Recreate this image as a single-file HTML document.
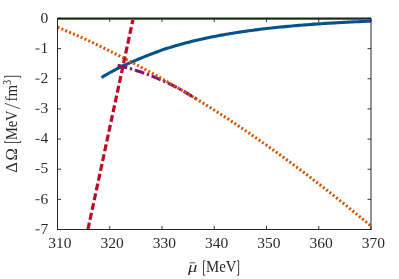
<!DOCTYPE html>
<html><head><meta charset="utf-8"><style>
html,body{margin:0;padding:0;background:#fff;}
svg{display:block;will-change:transform}
text{font-family:"Liberation Serif",serif;font-size:15.5px;fill:#2a2a2a;}
</style></head><body>
<svg width="399" height="279" viewBox="0 0 399 279">
<rect width="399" height="279" fill="#fff"/>
<g fill="none">
<path d="M87.90,229.50 L133.20,18.50" stroke="#be0a22" stroke-width="3.2" stroke-dasharray="7,3"/>
<path d="M101.50,77.48 L103.76,76.13 L106.03,74.80 L108.29,73.51 L110.56,72.26 L112.82,71.03 L115.09,69.84 L117.35,68.69 L119.62,67.56 L121.88,66.46 L124.15,65.40 L126.41,64.36 L128.68,63.34 L130.94,62.35 L133.21,61.37 L135.47,60.41 L137.74,59.46 L140.00,58.52 L142.26,57.59 L144.53,56.67 L146.79,55.76 L149.06,54.86 L151.32,53.98 L153.59,53.11 L155.85,52.26 L158.12,51.43 L160.38,50.62 L162.65,49.84 L164.91,49.07 L167.18,48.33 L169.44,47.61 L171.71,46.90 L173.97,46.22 L176.24,45.56 L178.50,44.91 L180.76,44.28 L183.03,43.66 L185.29,43.06 L187.56,42.48 L189.82,41.90 L192.09,41.34 L194.35,40.80 L196.62,40.26 L198.88,39.74 L201.15,39.23 L203.41,38.73 L205.68,38.24 L207.94,37.77 L210.21,37.30 L212.47,36.84 L214.74,36.40 L217.00,35.96 L219.26,35.54 L221.53,35.12 L223.79,34.72 L226.06,34.32 L228.32,33.93 L230.59,33.55 L232.85,33.18 L235.12,32.82 L237.38,32.46 L239.65,32.12 L241.91,31.78 L244.18,31.45 L246.44,31.12 L248.71,30.81 L250.97,30.50 L253.24,30.20 L255.50,29.90 L257.76,29.61 L260.03,29.33 L262.29,29.05 L264.56,28.78 L266.82,28.52 L269.09,28.26 L271.35,28.01 L273.62,27.77 L275.88,27.52 L278.15,27.29 L280.41,27.06 L282.68,26.84 L284.94,26.62 L287.21,26.40 L289.47,26.19 L291.74,25.99 L294.00,25.79 L296.26,25.59 L298.53,25.40 L300.79,25.21 L303.06,25.03 L305.32,24.85 L307.59,24.68 L309.85,24.50 L312.12,24.34 L314.38,24.17 L316.65,24.01 L318.91,23.86 L321.18,23.71 L323.44,23.56 L325.71,23.41 L327.97,23.27 L330.24,23.13 L332.50,22.99 L334.76,22.86 L337.03,22.73 L339.29,22.60 L341.56,22.48 L343.82,22.36 L346.09,22.24 L348.35,22.12 L350.62,22.01 L352.88,21.90 L355.15,21.79 L357.41,21.69 L359.68,21.58 L361.94,21.48 L364.21,21.38 L366.47,21.29 L368.74,21.19 L371.00,21.10" stroke="#06538c" stroke-width="3.1"/>
<path d="M117.70,65.29 L119.36,65.68 L121.01,66.10 L122.67,66.52 L124.32,66.96 L125.98,67.41 L127.63,67.87 L129.29,68.34 L130.94,68.83 L132.60,69.33 L134.25,69.85 L135.91,70.37 L137.56,70.91 L139.22,71.46 L140.87,72.03 L142.53,72.61 L144.18,73.20 L145.84,73.80 L147.49,74.42 L149.15,75.05 L150.80,75.69 L152.46,76.34 L154.11,77.01 L155.77,77.69 L157.42,78.39 L159.08,79.09 L160.73,79.81 L162.39,80.54 L164.04,81.29 L165.70,82.04 L167.35,82.81 L169.01,83.60 L170.66,84.39 L172.32,85.20 L173.97,86.02 L175.63,86.86 L177.28,87.70 L178.94,88.57 L180.59,89.49 L182.25,90.47 L183.90,91.45 L185.56,92.44 L187.21,93.43 L188.87,94.42 L190.52,95.42 L192.18,96.42 L193.83,97.42 L195.49,98.43 L197.14,99.44 L198.80,100.46" stroke="#8e0a78" stroke-width="3.1" stroke-dasharray="9.8,2.9,2.2,2.9"/>
<path d="M57.50,27.23 L60.13,28.32 L62.77,29.42 L65.40,30.53 L68.04,31.65 L70.67,32.77 L73.31,33.91 L75.94,35.05 L78.58,36.21 L81.21,37.37 L83.84,38.54 L86.48,39.75 L89.11,40.98 L91.75,42.23 L94.38,43.48 L97.02,44.74 L99.65,46.01 L102.29,47.29 L104.92,48.58 L107.55,49.88 L110.19,51.19 L112.82,52.50 L115.46,53.83 L118.09,55.16 L120.73,56.51 L123.36,57.86 L126.00,59.22 L128.63,60.59 L131.26,61.97 L133.90,63.36 L136.53,64.76 L139.17,66.17 L141.80,67.58 L144.44,69.01 L147.07,70.44 L149.71,71.89 L152.34,73.34 L154.97,74.80 L157.61,76.27 L160.24,77.75 L162.88,79.24 L165.51,80.74 L168.15,82.25 L170.78,83.77 L173.42,85.29 L176.05,86.83 L178.68,88.37 L181.32,89.92 L183.95,91.48 L186.59,93.06 L189.22,94.64 L191.86,96.22 L194.49,97.82 L197.13,99.43 L199.76,101.05 L202.39,102.67 L205.03,104.31 L207.66,105.96 L210.30,107.62 L212.93,109.29 L215.57,110.96 L218.20,112.65 L220.84,114.35 L223.47,116.05 L226.11,117.77 L228.74,119.49 L231.37,121.22 L234.01,122.96 L236.64,124.72 L239.28,126.48 L241.91,128.24 L244.55,130.02 L247.18,131.81 L249.82,133.61 L252.45,135.41 L255.08,137.22 L257.72,139.05 L260.35,140.88 L262.99,142.72 L265.62,144.57 L268.26,146.43 L270.89,148.30 L273.53,150.18 L276.16,152.07 L278.79,153.96 L281.43,155.87 L284.06,157.78 L286.70,159.71 L289.33,161.64 L291.97,163.58 L294.60,165.53 L297.24,167.49 L299.87,169.46 L302.50,171.44 L305.14,173.42 L307.77,175.42 L310.41,177.43 L313.04,179.44 L315.68,181.46 L318.31,183.50 L320.95,185.54 L323.58,187.59 L326.21,189.65 L328.85,191.72 L331.48,193.80 L334.12,195.88 L336.75,197.98 L339.39,200.08 L342.02,202.20 L344.66,204.32 L347.29,206.45 L349.92,208.60 L352.56,210.75 L355.19,212.91 L357.83,215.08 L360.46,217.25 L363.10,219.44 L365.73,221.64 L368.37,223.84 L371.00,226.06" stroke="#d25400" stroke-width="3.0" stroke-dasharray="2.0,2.2"/>
<path d="M57.5,18.68 H371.0" stroke="#57840f" stroke-width="2.75"/>
</g>
<g stroke="#222" stroke-width="0.9" fill="none"><path d="M57.5,18.50 h3.5 M371.0,18.50 h-3.5"/><path d="M57.5,48.64 h3.5 M371.0,48.64 h-3.5"/><path d="M57.5,78.79 h3.5 M371.0,78.79 h-3.5"/><path d="M57.5,108.93 h3.5 M371.0,108.93 h-3.5"/><path d="M57.5,139.07 h3.5 M371.0,139.07 h-3.5"/><path d="M57.5,169.21 h3.5 M371.0,169.21 h-3.5"/><path d="M57.5,199.36 h3.5 M371.0,199.36 h-3.5"/><path d="M57.5,229.50 h3.5 M371.0,229.50 h-3.5"/><path d="M57.50,229.5 v-3.5 M57.50,18.5 v3.5"/><path d="M109.75,229.5 v-3.5 M109.75,18.5 v3.5"/><path d="M162.00,229.5 v-3.5 M162.00,18.5 v3.5"/><path d="M214.25,229.5 v-3.5 M214.25,18.5 v3.5"/><path d="M266.50,229.5 v-3.5 M266.50,18.5 v3.5"/><path d="M318.75,229.5 v-3.5 M318.75,18.5 v3.5"/><path d="M371.00,229.5 v-3.5 M371.00,18.5 v3.5"/></g>
<path d="M57.5,18.5 V229.5" stroke="#262626" stroke-width="1" fill="none"/>
<path d="M57.0,229.5 H371.5" stroke="#262626" stroke-width="1" fill="none"/>
<path d="M57.5,18.5 H371.0" stroke="#111" stroke-opacity="0.8" stroke-width="1" fill="none"/>
<path d="M371.0,229.5 V18.5" stroke="#262626" stroke-width="1" fill="none"/>
<text x="48.3" y="22.7" text-anchor="end">0</text><text x="48.3" y="52.8" text-anchor="end">1</text><path d="M35.4,48.99 H39.6" stroke="#2a2a2a" stroke-width="0.95" fill="none"/><text x="48.3" y="83.0" text-anchor="end">2</text><path d="M35.4,79.14 H39.6" stroke="#2a2a2a" stroke-width="0.95" fill="none"/><text x="48.3" y="113.1" text-anchor="end">3</text><path d="M35.4,109.28 H39.6" stroke="#2a2a2a" stroke-width="0.95" fill="none"/><text x="48.3" y="143.3" text-anchor="end">4</text><path d="M35.4,139.42 H39.6" stroke="#2a2a2a" stroke-width="0.95" fill="none"/><text x="48.3" y="173.4" text-anchor="end">5</text><path d="M35.4,169.56 H39.6" stroke="#2a2a2a" stroke-width="0.95" fill="none"/><text x="48.3" y="203.6" text-anchor="end">6</text><path d="M35.4,199.71 H39.6" stroke="#2a2a2a" stroke-width="0.95" fill="none"/><text x="48.3" y="233.7" text-anchor="end">7</text><path d="M35.4,229.85 H39.6" stroke="#2a2a2a" stroke-width="0.95" fill="none"/>
<text x="59.8" y="248.3" text-anchor="middle">310</text><text x="112.0" y="248.3" text-anchor="middle">320</text><text x="164.3" y="248.3" text-anchor="middle">330</text><text x="216.6" y="248.3" text-anchor="middle">340</text><text x="268.8" y="248.3" text-anchor="middle">350</text><text x="321.1" y="248.3" text-anchor="middle">360</text><text x="373.3" y="248.3" text-anchor="middle">370</text>
<g transform="translate(16.8,172.4) rotate(-90)" style="font-size:15.5px">
<text x="-0.3" y="0" style="font-size:16.5px">Δ</text><text x="11.9" y="0" style="font-size:16.5px">Ω</text>
<path d="M31.6,-12.1 H29.95 V3.9 H31.6" fill="none" stroke="#2a2a2a" stroke-width="0.9"/>
<text transform="translate(32.3,0) scale(0.9002,1)" style="font-size:16px">MeV</text>
<path d="M63.7,3.4 L69.1,-12.1" stroke="#2a2a2a" stroke-width="0.8" fill="none"/>
<text transform="translate(70.9,0) scale(0.9395,1)" style="font-size:16px">fm</text>
<text transform="translate(87.6,-6.2) scale(0.78,1)" style="font-size:12.5px">3</text>
<path d="M94.45,-12.1 H96.1 V3.9 H94.45" fill="none" stroke="#2a2a2a" stroke-width="0.9"/>
</g>
<g style="font-size:15px">
<text transform="translate(187.9,271.8) scale(1.2,1)" style="font-style:italic;font-size:15.5px">μ</text>
<path d="M189.6,262.8 h5.6" stroke="#2a2a2a" stroke-width="0.8"/>
<path d="M205.2,260.7 H203.54999999999998 V275.3 H205.2" fill="none" stroke="#2a2a2a" stroke-width="0.9"/>
<text transform="translate(206.1,271.8) scale(0.9276,1)" style="font-size:16px">MeV</text>
<path d="M237.0,260.7 H238.65 V275.3 H237.0" fill="none" stroke="#2a2a2a" stroke-width="0.9"/>
</g>
</svg>
</body></html>
